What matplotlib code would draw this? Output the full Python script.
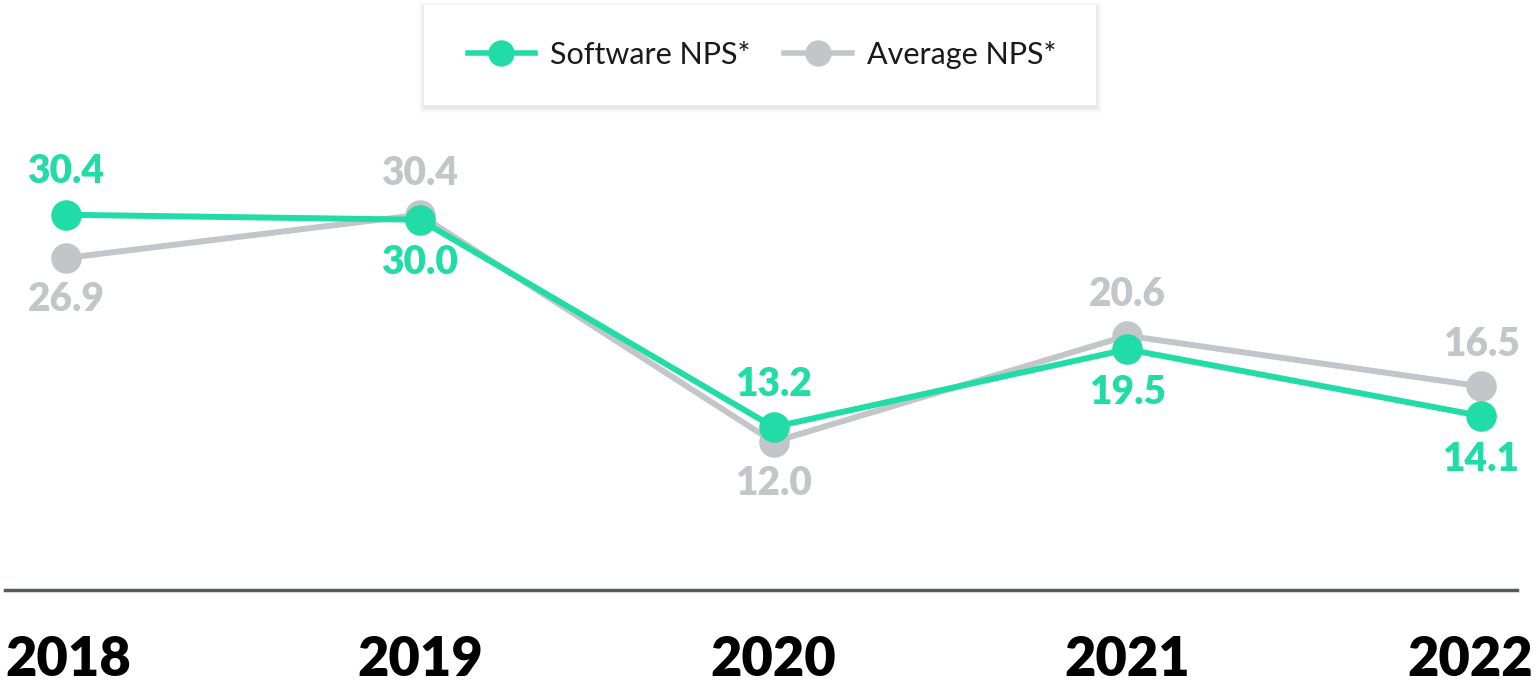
import matplotlib
matplotlib.use("Agg")
import matplotlib.pyplot as plt
from matplotlib.lines import Line2D
from matplotlib.patches import FancyBboxPatch

years = ["2018", "2019", "2020", "2021", "2022"]
software_nps = [30.4, 30.0, 13.2, 19.5, 14.1]
average_nps = [26.9, 30.4, 12.0, 20.6, 16.5]

# label above (+1) or below (-1) each point
software_side = [1, -1, 1, -1, -1]
average_side = [-1, 1, -1, 1, 1]

TEAL = "#22dca8"
GRAY = "#c3c6c8"

W, H = 1538.0, 689.0
fig = plt.figure(figsize=(W / 100, H / 100), dpi=100)
ax = fig.add_axes([0, 0, 1, 1])
ax.set_xlim(-0.1866, 4.161)
ax.set_ylim(-8.02, 47.8)
ax.axis("off")

x = list(range(len(years)))

ax.plot(x, average_nps, color=GRAY, lw=4.3, marker="o", ms=21,
        solid_capstyle="round", zorder=2)
ax.plot(x, software_nps, color=TEAL, lw=4.3, marker="o", ms=21,
        solid_capstyle="round", zorder=3)

label_font = dict(fontsize=28, fontweight="heavy", family="Lato")
for xi, v, s in zip(x, software_nps, software_side):
    ax.annotate(f"{v:.1f}", (xi, v), xytext=(0, 31 * s), textcoords="offset points",
                ha="center", va="center", color=TEAL, **label_font)
for xi, v, s in zip(x, average_nps, average_side):
    ax.annotate(f"{v:.1f}", (xi, v), xytext=(0, 30 * s), textcoords="offset points",
                ha="center", va="center", color=GRAY, **label_font)

# baseline
ax.axhline(0, xmin=5 / W, xmax=1517 / W, color="#555a5c", lw=2.5, zorder=1)

# year labels: first left-aligned, last right-aligned, others centred under points
year_y = 1 - 660 / H
year_font = dict(fontsize=39, fontweight="heavy", color="black", family="Lato", va="center")
for i, yr in enumerate(years):
    if i == 0:
        ax.text(5 / W, year_y, yr, transform=ax.transAxes, ha="left", **year_font)
    elif i == len(years) - 1:
        ax.text(1533 / W, year_y, yr, transform=ax.transAxes, ha="right", **year_font)
    else:
        ax.text(i, year_y, yr, transform=ax.get_xaxis_transform(), ha="center", **year_font)

# legend box with soft shadow
bx0, by0, bx1, by1 = 424, 5, 1096, 105
for k, a in enumerate([0.012, 0.018, 0.025, 0.035]):
    pad = (4 - k) * 1.5
    fig.patches.append(FancyBboxPatch(
        ((bx0 - pad) / W, 1 - (by1 + pad + 2) / H), (bx1 - bx0 + 2 * pad) / W,
        (by1 - by0 + 2 * pad) / H, boxstyle="square,pad=0", transform=fig.transFigure,
        facecolor="black", edgecolor="none", alpha=a, zorder=4))
fig.patches.append(FancyBboxPatch(
    (bx0 / W, 1 - by1 / H), (bx1 - bx0) / W, (by1 - by0) / H,
    boxstyle="square,pad=0", transform=fig.transFigure,
    facecolor="white", edgecolor="none", zorder=5))

handles = [
    Line2D([0], [0], color=TEAL, lw=4, marker="o", ms=18, label="Software NPS*"),
    Line2D([0], [0], color=GRAY, lw=4, marker="o", ms=18, label="Average NPS*"),
]
leg = fig.legend(handles=handles, loc="center", bbox_to_anchor=(762 / W, 1 - 55 / H),
                 ncol=2, frameon=False, handlelength=2.2, handletextpad=0.5,
                 columnspacing=1.1, prop={"family": "Lato", "weight": "normal", "size": 22})
leg.set_zorder(6)
for t in leg.get_texts():
    t.set_color("#1a1a1a")

fig.savefig("out.png", dpi=100)
